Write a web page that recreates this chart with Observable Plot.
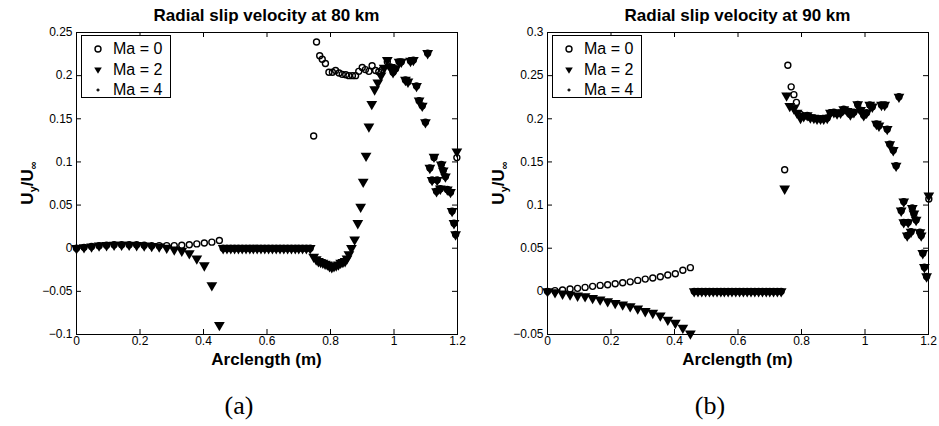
<!DOCTYPE html>
<html><head><meta charset="utf-8">
<script src="https://cdn.jsdelivr.net/npm/d3@7"></script>
<script src="https://cdn.jsdelivr.net/npm/@observablehq/plot@0.6"></script>
<style>
html,body{margin:0;padding:0;background:#fff;}
#wrap{position:relative;width:939px;height:426px;overflow:hidden;font-family:"Liberation Sans",Arial,sans-serif;color:#000;}
.panel{position:absolute;top:0;height:426px;}
.panel > svg{position:absolute;left:0;top:0;}
.title{position:absolute;top:6px;font-weight:bold;font-size:17px;line-height:20px;text-align:center;white-space:nowrap;}
.xlabel{position:absolute;top:350px;font-weight:bold;font-size:17px;line-height:20px;text-align:center;white-space:nowrap;}
.ylabel{position:absolute;width:120px;height:22px;line-height:22px;font-weight:bold;font-size:17px;text-align:center;white-space:nowrap;transform:rotate(-90deg);}
.ylabel sub{font-size:11px;vertical-align:-4px;line-height:0;}
.caption{position:absolute;top:391px;width:100px;font-family:"Liberation Serif","DejaVu Serif",serif;font-size:26px;line-height:30px;text-align:center;}
.legend{position:absolute;border:1px solid #000;background:#fff;box-sizing:border-box;}
.legend .row{position:absolute;left:0;height:20px;line-height:20px;font-size:16px;white-space:nowrap;}
.legend .row svg{position:absolute;left:9px;top:4px;}
.legend .row span{position:absolute;left:31px;top:0;}
</style>
</head><body>
<div id="wrap"></div>
<script>
// ---------- text ----------
const titles = ["Radial slip velocity at 80 km", "Radial slip velocity at 90 km"];
const captions = ["(a)", "(b)"];
const xLabelText = "Arclength (m)";
const seriesNames = ["Ma = 0", "Ma = 2", "Ma = 4"];

// ---------- ticks ----------
const xTicks = [0, 0.2, 0.4, 0.6, 0.8, 1, 1.2];
const xTickLabels = ["0", "0.2", "0.4", "0.6", "0.8", "1", "1.2"];
const yTicksA = [-0.1, -0.05, 0, 0.05, 0.1, 0.15, 0.2, 0.25];
const yTickLabelsA = ["\u22120.1", "\u22120.05", "0", "0.05", "0.1", "0.15", "0.2", "0.25"];
const yTicksB = [-0.05, 0, 0.05, 0.1, 0.15, 0.2, 0.25, 0.3];
const yTickLabelsB = ["\u22120.05", "0", "0.05", "0.1", "0.15", "0.2", "0.25", "0.3"];

// ---------- arclength stations (shared) ----------
const sFront = [0, 0.0237, 0.0474, 0.0711, 0.0947, 0.1184, 0.1421, 0.1658, 0.1895, 0.2132,
                0.2368, 0.2605, 0.2842, 0.3079, 0.3316, 0.3553, 0.3789, 0.4026, 0.4263, 0.45];
const sPlateau = [0.462, 0.474, 0.486, 0.498, 0.510, 0.522, 0.534, 0.546, 0.557, 0.569, 0.581, 0.593,
                  0.605, 0.617, 0.629, 0.641, 0.653, 0.665, 0.677, 0.689, 0.700, 0.712, 0.724, 0.736];
const plateauValues = [0, 0, 0, 0, 0, 0, 0, 0, 0, 0, 0, 0, 0, 0, 0, 0, 0, 0, 0, 0, 0, 0, 0, 0];

// ---------- (a) 80 km ----------
const a_ma0_front = [0, 0.001, 0.002, 0.003, 0.0035, 0.004, 0.004, 0.004, 0.004, 0.0035,
                     0.003, 0.003, 0.003, 0.003, 0.0035, 0.004, 0.005, 0.006, 0.007, 0.009];
const a_ma2_front = [0, 0.001, 0.002, 0.003, 0.0035, 0.004, 0.004, 0.004, 0.0035, 0.003,
                     0.0025, 0.002, 0.0005, -0.0015, -0.003, -0.006, -0.012, -0.020, -0.043, -0.089];
const a_ma0_aft = [[0.747,0.130],[0.756,0.239],[0.766,0.223],[0.774,0.219],[0.784,0.214],[0.795,0.204],
  [0.806,0.204],[0.816,0.206],[0.827,0.203],[0.837,0.2015],[0.848,0.201],[0.858,0.200],[0.869,0.200],
  [0.879,0.200],[0.889,0.205],[0.900,0.2095],[0.910,0.207],[0.921,0.205],[0.931,0.2115],[0.942,0.206],
  [0.952,0.2045],[0.963,0.207],[0.979,0.216],[0.989,0.210],[0.997,0.204],[1.005,0.208],[1.016,0.216],
  [1.023,0.216],[1.036,0.195],[1.044,0.193],[1.052,0.217],[1.061,0.218],[1.071,0.188],[1.079,0.171],
  [1.089,0.165],[1.099,0.146],[1.106,0.226],[1.113,0.093],[1.120,0.079],[1.126,0.105],[1.134,0.066],
  [1.136,0.079],[1.146,0.069],[1.149,0.097],[1.155,0.090],[1.162,0.083],[1.168,0.068],[1.178,0.065],
  [1.183,0.043],[1.189,0.029],[1.194,0.016],[1.198,0.105]];
const a_ma2_aft = [[0.747,-0.010],[0.755,-0.013],[0.762,-0.015],[0.769,-0.016],[0.776,-0.017],[0.783,-0.018],
  [0.790,-0.019],[0.797,-0.021],[0.804,-0.022],[0.811,-0.021],[0.818,-0.020],[0.825,-0.019],[0.832,-0.017],
  [0.839,-0.016],[0.846,-0.015],[0.852,-0.012],[0.858,-0.007],[0.866,0.000],[0.876,0.010],[0.886,0.029],
  [0.895,0.048],[0.903,0.077],[0.912,0.107],[0.921,0.141],[0.930,0.167],[0.939,0.184],[0.949,0.192],
  [0.959,0.200],[0.969,0.209],[0.979,0.218],[0.989,0.210],[0.997,0.204],[1.005,0.208],[1.016,0.216],
  [1.023,0.216],[1.036,0.195],[1.044,0.193],[1.052,0.217],[1.061,0.218],[1.071,0.188],[1.079,0.171],
  [1.089,0.165],[1.099,0.146],[1.106,0.226],[1.113,0.093],[1.120,0.079],[1.126,0.106],[1.134,0.066],
  [1.136,0.079],[1.146,0.069],[1.149,0.097],[1.155,0.090],[1.162,0.083],[1.168,0.068],[1.178,0.065],
  [1.183,0.043],[1.189,0.029],[1.194,0.016],[1.198,0.112]];
// Ma = 4 markers sit under the Ma = 2 triangles everywhere in the picture
const a_ma4_front = a_ma2_front;
const a_ma4_aft = a_ma2_aft;

// ---------- (b) 90 km ----------
const b_ma0_front = [0, 0.0008, 0.0015, 0.0027, 0.0035, 0.0046, 0.0058, 0.0069, 0.0077, 0.0089,
                     0.010, 0.011, 0.0127, 0.0142, 0.0154, 0.0169, 0.0189, 0.0204, 0.0245, 0.0275];
const b_ma2_front = [0, -0.0012, -0.0027, -0.0038, -0.005, -0.0058, -0.0077, -0.0096, -0.0115, -0.0135,
                     -0.0154, -0.0173, -0.020, -0.023, -0.025, -0.028, -0.0329, -0.0366, -0.0423, -0.049];
const b_ma0_aft = [[0.747,0.141],[0.757,0.262],[0.7675,0.237],[0.776,0.228],[0.784,0.219],[0.797,0.205],
  [0.807,0.203],[0.818,0.204],[0.828,0.2015],[0.839,0.201],[0.849,0.200],[0.860,0.200],[0.870,0.200],
  [0.881,0.201],[0.891,0.207],[0.902,0.2075],[0.912,0.206],[0.923,0.207],[0.933,0.211],[0.944,0.209],
  [0.954,0.205],[0.965,0.2075],[0.977,0.2167],[0.986,0.210],[0.996,0.204],[1.005,0.207],[1.015,0.216],
  [1.023,0.214],[1.036,0.194],[1.044,0.192],[1.052,0.216],[1.062,0.216],[1.070,0.188],[1.078,0.1705],
  [1.089,0.1636],[1.098,0.1455],[1.107,0.2255],[1.114,0.0935],[1.122,0.080],[1.122,0.104],[1.133,0.0647],
  [1.136,0.080],[1.145,0.069],[1.149,0.0966],[1.154,0.090],[1.161,0.0828],[1.173,0.0685],[1.177,0.0647],
  [1.182,0.0442],[1.187,0.028],[1.194,0.0173],[1.201,0.107]];
const b_ma2_aft = [[0.747,0.119],[0.753,0.227],[0.763,0.2148],[0.776,0.212],[0.786,0.207],[0.797,0.201],
  [0.807,0.203],[0.818,0.204],[0.828,0.2015],[0.839,0.201],[0.849,0.200],[0.860,0.200],[0.870,0.200],
  [0.881,0.201],[0.891,0.207],[0.902,0.2075],[0.912,0.206],[0.923,0.207],[0.933,0.211],[0.944,0.209],
  [0.954,0.205],[0.965,0.2075],[0.977,0.2167],[0.986,0.210],[0.996,0.204],[1.005,0.207],[1.015,0.216],
  [1.023,0.214],[1.036,0.194],[1.044,0.192],[1.052,0.216],[1.062,0.216],[1.070,0.188],[1.078,0.1705],
  [1.089,0.1636],[1.098,0.1455],[1.107,0.2255],[1.114,0.0935],[1.122,0.080],[1.122,0.104],[1.133,0.0647],
  [1.136,0.080],[1.145,0.069],[1.149,0.0966],[1.154,0.090],[1.161,0.0828],[1.173,0.0685],[1.177,0.0647],
  [1.182,0.0442],[1.187,0.028],[1.194,0.0173],[1.201,0.111]];
const b_ma4_front = b_ma2_front;
const b_ma4_aft = b_ma2_aft;

// ---------- build ----------
function series(front, aft) {
  return [
    ...front.map((y, i) => ({x: sFront[i], y})),
    ...plateauValues.map((y, i) => ({x: sPlateau[i], y})),
    ...aft.map(([x, y]) => ({x, y}))
  ];
}

const PLOT_H = 370, MT = 32, MB = 36;

function symbolSvg(k) {
  if (k === 0) return '<svg width="14" height="12"><circle cx="7" cy="6" r="3" fill="none" stroke="#000" stroke-width="1.4"/></svg>';
  if (k === 1) return '<svg width="14" height="12"><path d="M3.2,3.5 L10.8,3.5 L7,9.8 Z" fill="#000"/></svg>';
  return '<svg width="14" height="12"><path d="M5.5,6 H8.5 M7,4.5 V7.5" stroke="#000" stroke-width="1.3"/></svg>';
}

function panel(cfg) {
  const wrap = document.getElementById("wrap");
  const div = document.createElement("div");
  div.className = "panel";
  div.style.left = cfg.left + "px";
  div.style.width = cfg.width + "px";
  wrap.appendChild(div);

  const fw = cfg.width - cfg.ml - cfg.mr;
  const fh = PLOT_H - MT - MB;
  const ma0 = series(cfg.ma0[0], cfg.ma0[1]);
  const ma2 = series(cfg.ma2[0], cfg.ma2[1]);
  const ma4 = series(cfg.ma4[0], cfg.ma4[1]);

  const chart = Plot.plot({
    width: cfg.width, height: PLOT_H,
    marginLeft: cfg.ml, marginRight: cfg.mr, marginTop: MT, marginBottom: MB,
    style: {fontFamily: "'Liberation Sans', Arial, sans-serif", fontSize: "12px", color: "black", background: "transparent", overflow: "visible"},
    x: {domain: [0, 1.2], axis: null},
    y: {domain: [cfg.yTicks[0], cfg.yTicks[cfg.yTicks.length - 1]], axis: null},
    marks: [
      Plot.dot(ma0, {x: "x", y: "y", symbol: "circle", r: 3, stroke: "black", strokeWidth: 1.4, fill: "none"}),
      Plot.dot(ma2, {x: "x", y: "y", symbol: "triangle", rotate: 180, r: 4, fill: "black", stroke: "none"}),
      Plot.dot(ma4, {x: "x", y: "y", symbol: "plus", r: 1.8, stroke: "black", strokeWidth: 1}),
      Plot.tickX(xTicks, {x: d => d, insetTop: fh - 5, stroke: "black"}),
      Plot.tickX(xTicks, {x: d => d, insetBottom: fh - 5, stroke: "black"}),
      Plot.tickY(cfg.yTicks, {y: d => d, insetRight: fw - 5, stroke: "black"}),
      Plot.tickY(cfg.yTicks, {y: d => d, insetLeft: fw - 5, stroke: "black"}),
      Plot.frame({stroke: "black", strokeWidth: 1}),
      Plot.axisX(xTicks, {anchor: "bottom", tickSize: 0, tickPadding: 2, label: null,
        tickFormat: d => xTickLabels[xTicks.indexOf(d)]}),
      Plot.axisY(cfg.yTicks, {anchor: "left", tickSize: 0, tickPadding: 4, label: null,
        tickFormat: d => cfg.yLabels[cfg.yTicks.indexOf(d)]})
    ]
  });
  div.appendChild(chart);

  const t = document.createElement("div");
  t.className = "title";
  t.style.left = cfg.ml + "px"; t.style.width = fw + "px";
  t.textContent = cfg.title;
  div.appendChild(t);

  const xl = document.createElement("div");
  xl.className = "xlabel";
  xl.style.left = cfg.ml + "px"; xl.style.width = fw + "px";
  xl.textContent = xLabelText;
  div.appendChild(xl);

  const yl = document.createElement("div");
  yl.className = "ylabel";
  const cy = MT + fh / 2;
  yl.style.left = (cfg.ylx - 60) + "px"; yl.style.top = (cy - 11) + "px";
  yl.innerHTML = "U<sub>y</sub>/U<sub>\u221E</sub>";
  div.appendChild(yl);

  const cap = document.createElement("div");
  cap.className = "caption";
  cap.style.left = (cfg.capx - 50) + "px";
  cap.textContent = cfg.caption;
  div.appendChild(cap);

  const lg = document.createElement("div");
  lg.className = "legend";
  lg.style.left = (cfg.ml + 5) + "px"; lg.style.top = "35px";
  lg.style.width = "90px"; lg.style.height = "63px";
  seriesNames.forEach((name, k) => {
    const row = document.createElement("div");
    row.className = "row";
    row.style.top = (3 + k * 20.5) + "px";
    row.innerHTML = symbolSvg(k) + "<span>" + name + "</span>";
    lg.appendChild(row);
  });
  div.appendChild(lg);
}

panel({left: 0, width: 470, ml: 76, mr: 13, yTicks: yTicksA, yLabels: yTickLabelsA,
  title: titles[0], caption: captions[0], ylx: 28, capx: 239,
  ma0: [a_ma0_front, a_ma0_aft], ma2: [a_ma2_front, a_ma2_aft], ma4: [a_ma4_front, a_ma4_aft]});
panel({left: 470, width: 469, ml: 77, mr: 11, yTicks: yTicksB, yLabels: yTickLabelsB,
  title: titles[1], caption: captions[1], ylx: 29, capx: 240,
  ma0: [b_ma0_front, b_ma0_aft], ma2: [b_ma2_front, b_ma2_aft], ma4: [b_ma4_front, b_ma4_aft]});
</script>
</body></html>
